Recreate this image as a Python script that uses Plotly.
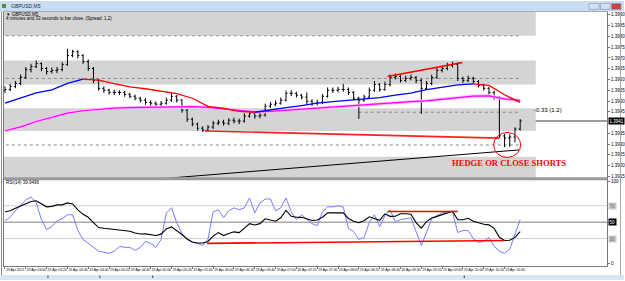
import plotly.graph_objects as go

W, H = 625, 281

# ---------------- data ----------------
close = [1.39554, 1.39568, 1.39582, 1.39610, 1.39646, 1.39660, 1.39674, 1.39651, 1.39637, 1.39642,
         1.39646, 1.39670, 1.39711, 1.39729, 1.39711, 1.39683, 1.39651, 1.39596, 1.39559, 1.39550,
         1.39540, 1.39540, 1.39540, 1.39531, 1.39522, 1.39513, 1.39504, 1.39494, 1.39490, 1.39485,
         1.39490, 1.39504, 1.39522, 1.39504, 1.39457, 1.39416, 1.39393, 1.39374, 1.39365, 1.39379,
         1.39397, 1.39402, 1.39397, 1.39411, 1.39407, 1.39407, 1.39430, 1.39444, 1.39430, 1.39434,
         1.39476, 1.39485, 1.39490, 1.39504, 1.39536, 1.39536, 1.39527, 1.39518, 1.39499, 1.39490,
         1.39494, 1.39522, 1.39550, 1.39550, 1.39554, 1.39554, 1.39540, 1.39513, 1.39504, 1.39518,
         1.39550, 1.39577, 1.39554, 1.39577, 1.39610, 1.39614, 1.39596, 1.39605, 1.39610, 1.39596,
         1.39559, 1.39582, 1.39610, 1.39642, 1.39651, 1.39665, 1.39670, 1.39605, 1.39596, 1.39605,
         1.39591, 1.39573, 1.39559, 1.39540, 1.39518, 1.39338, 1.39328, 1.39333, 1.39370, 1.39407]
high = [1.39568, 1.39580, 1.39593, 1.39623, 1.39658, 1.39673, 1.39688, 1.39680, 1.39658, 1.39656,
        1.39658, 1.39680, 1.39743, 1.39738, 1.39736, 1.39718, 1.39693, 1.39658, 1.39603, 1.39568,
        1.39558, 1.39553, 1.39550, 1.39548, 1.39538, 1.39530, 1.39520, 1.39513, 1.39503, 1.39498,
        1.39500, 1.39516, 1.39536, 1.39528, 1.39510, 1.39463, 1.39423, 1.39400, 1.39383, 1.39388,
        1.39408, 1.39413, 1.39413, 1.39420, 1.39423, 1.39418, 1.39443, 1.39456, 1.39450, 1.39446,
        1.39488, 1.39496, 1.39503, 1.39516, 1.39548, 1.39550, 1.39543, 1.39533, 1.39540, 1.39508,
        1.39506, 1.39533, 1.39563, 1.39563, 1.39566, 1.39580, 1.39563, 1.39546, 1.39520, 1.39530,
        1.39563, 1.39593, 1.39583, 1.39590, 1.39623, 1.39628, 1.39620, 1.39618, 1.39623, 1.39616,
        1.39603, 1.39593, 1.39623, 1.39656, 1.39663, 1.39678, 1.39683, 1.39680, 1.39613, 1.39618,
        1.39613, 1.39598, 1.39580, 1.39566, 1.39548, 1.39523, 1.39348, 1.39346, 1.39378, 1.39416]
low = [1.39538, 1.39546, 1.39560, 1.39573, 1.39603, 1.39633, 1.39653, 1.39638, 1.39623, 1.39628,
       1.39630, 1.39638, 1.39663, 1.39703, 1.39698, 1.39673, 1.39640, 1.39583, 1.39548, 1.39538,
       1.39530, 1.39528, 1.39528, 1.39520, 1.39513, 1.39503, 1.39493, 1.39483, 1.39478, 1.39473,
       1.39476, 1.39483, 1.39496, 1.39493, 1.39446, 1.39403, 1.39383, 1.39363, 1.39356, 1.39358,
       1.39370, 1.39388, 1.39386, 1.39388, 1.39396, 1.39393, 1.39400, 1.39423, 1.39418, 1.39420,
       1.39428, 1.39468, 1.39476, 1.39483, 1.39498, 1.39523, 1.39516, 1.39508, 1.39483, 1.39478,
       1.39480, 1.39486, 1.39516, 1.39538, 1.39540, 1.39543, 1.39528, 1.39503, 1.39417, 1.39496,
       1.39510, 1.39543, 1.39543, 1.39548, 1.39568, 1.39600, 1.39586, 1.39588, 1.39596, 1.39583,
       1.39440, 1.39553, 1.39573, 1.39603, 1.39633, 1.39643, 1.39656, 1.39593, 1.39583, 1.39588,
       1.39580, 1.39563, 1.39548, 1.39528, 1.39506, 1.39328, 1.39286, 1.39288, 1.39308, 1.39363]
first_open = 1.39548
open_ = [first_open] + close[:-1]
bars = list(range(len(close)))

# moving averages, one value every 3 bars
ma_bars = list(range(0, 100, 3))
ma_fast = [1.39490, 1.39514, 1.39538, 1.39552, 1.39582, 1.39602, 1.39597, 1.39581, 1.39566, 1.39557,
           1.39546, 1.39534, 1.39513, 1.39475, 1.39466, 1.39452, 1.39448, 1.39457, 1.39469, 1.39479,
           1.39490, 1.39497, 1.39503, 1.39509, 1.39516, 1.39527, 1.39537, 1.39553, 1.39565, 1.39575,
           1.39580, 1.39573, 1.39529, 1.39494]
ma_slow = [1.39362, 1.39380, 1.39405, 1.39425, 1.39444, 1.39455, 1.39462, 1.39467, 1.39469, 1.39471,
           1.39471, 1.39474, 1.39474, 1.39471, 1.39463, 1.39455, 1.39450, 1.39452, 1.39457, 1.39463,
           1.39468, 1.39474, 1.39480, 1.39485, 1.39489, 1.39493, 1.39497, 1.39501, 1.39508, 1.39516,
           1.39523, 1.39524, 1.39510, 1.39503]

rsi = [51.8, 56.0, 63.9, 71.1, 77.1, 80.7, 73.5, 53.0, 41.0, 44.6,
       51.8, 54.2, 59.0, 59.0, 39.8, 28.9, 24.1, 19.3, 14.5, 13.3,
       12.0, 14.5, 20.5, 19.3, 19.3, 15.7, 19.3, 26.5, 24.1, 19.3,
       28.9, 61.4, 67.5, 49.4, 36.1, 28.9, 25.3, 24.1, 21.7, 28.9,
       62.7, 65.1, 55.4, 63.9, 67.5, 65.1, 67.5, 79.5, 61.4, 73.5,
       78.3, 78.3, 63.9, 67.5, 79.5, 62.7, 53.0, 59.0, 53.0, 48.2,
       45.8, 62.7, 68.7, 68.7, 69.9, 68.7, 42.2, 38.6, 28.9, 31.3,
       49.4, 59.0, 44.6, 57.8, 65.1, 50.6, 53.0, 54.2, 55.4, 38.6,
       21.7, 37.3, 54.2, 57.8, 61.4, 62.7, 62.7, 37.3, 39.8, 39.8,
       30.1, 25.3, 26.5, 31.3, 20.5, 14.5, 12.0, 16.9, 34.9, 53.0]
rsi_signal = [62.7, 63.9, 66.9, 69.9, 72.3, 75.2, 76.1, 72.3, 68.7, 69.3,
              71.1, 71.1, 73.5, 72.3, 65.1, 59.6, 56.0, 49.4, 43.4, 42.5,
              41.7, 41.3, 41.0, 39.4, 38.9, 36.7, 35.5, 35.7, 34.7, 33.7,
              35.4, 41.7, 44.2, 39.8, 34.9, 29.5, 25.9, 24.6, 24.6, 26.5,
              33.0, 37.3, 33.7, 36.1, 38.2, 37.3, 42.5, 48.2, 46.6, 48.2,
              54.2, 53.0, 51.1, 55.4, 64.5, 57.2, 56.0, 55.9, 54.1, 52.0,
              52.7, 56.0, 61.4, 61.4, 61.8, 61.4, 54.5, 51.0, 49.4, 51.8,
              56.6, 54.2, 52.3, 60.2, 57.1, 57.2, 60.2, 60.2, 59.6, 49.4,
              42.7, 50.7, 55.1, 57.1, 59.0, 61.4, 63.3, 53.0, 53.0, 54.8,
              51.1, 49.4, 47.5, 46.7, 42.4, 31.6, 27.7, 28.0, 31.4, 38.6]

# user drawn objects (bar index, value)
trend_price_upper = ([73.5, 87.9], [1.39614, 1.39679])
trend_price_lower = ([38.4, 95.0], [1.39361, 1.39328])
trend_price_long = ([27.8, 98.8], [1.39135, 1.39273])
trend_rsi_upper = ([73.5, 87.0], [63.0, 63.0])
trend_rsi_lower = ([38.8, 96.0], [24.1, 27.7])
zones = [(1.39803, 1.39950), (1.39577, 1.39688), (1.39361, 1.39467), (1.39100, 1.39241)]
dotted_levels = [(1.39803, -1, 99), (1.39605, -1, 99), (1.39448, 68, 99), (1.39296, -1, 99)]
circle_box = (93.9, 99.1, 1.39238, 1.39354)

time_tick_bars = list(range(0, 100, 4))
time_tick_labels = ["29 Apr 2021", "29 Apr 03:00", "29 Apr 03:20", "29 Apr 03:40", "29 Apr 04:00",
                    "29 Apr 04:20", "29 Apr 04:40", "29 Apr 05:00", "29 Apr 05:20", "29 Apr 05:40",
                    "29 Apr 06:00", "29 Apr 06:20", "29 Apr 06:40", "29 Apr 07:00", "29 Apr 07:20",
                    "29 Apr 07:40", "29 Apr 08:00", "29 Apr 08:20", "29 Apr 08:40", "29 Apr 09:00",
                    "29 Apr 09:20", "29 Apr 09:40", "29 Apr 10:00", "29 Apr 10:20", "29 Apr 10:40"]
price_ticks = [1.3990, 1.3985, 1.3980, 1.3975, 1.3970, 1.3965, 1.3960, 1.3955,
               1.3950, 1.3945, 1.3935, 1.3930, 1.3925, 1.3920, 1.3915]
rsi_levels = [70, 50, 30]


def px(p):
    return p / W


def py(p):
    return 1 - p / H


FONT = "Liberation Sans"
fig = go.Figure()

# price bars
fig.add_trace(go.Ohlc(x=bars, open=open_, high=high, low=low, close=close,
                      increasing=dict(line=dict(color="black", width=1)),
                      decreasing=dict(line=dict(color="black", width=1)),
                      tickwidth=0.3, xaxis="x", yaxis="y", hoverinfo="skip"))

# slow MA (magenta with pale halo)
fig.add_trace(go.Scatter(x=ma_bars, y=ma_slow, mode="lines", line=dict(color="#ffb8ff", width=3),
                         xaxis="x", yaxis="y", hoverinfo="skip"))
fig.add_trace(go.Scatter(x=ma_bars, y=ma_slow, mode="lines", line=dict(color="#ff00ff", width=1.2),
                         xaxis="x", yaxis="y", hoverinfo="skip"))

# fast MA, coloured by slope
runs = []
for j in range(len(ma_fast) - 1):
    col = "#0000ff" if ma_fast[j + 1] >= ma_fast[j] else "#ff0000"
    if runs and runs[-1][0] == col:
        runs[-1][1].append(j + 1)
    else:
        runs.append([col, [j, j + 1]])
for col, idx in runs:
    fig.add_trace(go.Scatter(x=[ma_bars[k] for k in idx], y=[ma_fast[k] for k in idx], mode="lines",
                             line=dict(color=col, width=1.3), xaxis="x", yaxis="y", hoverinfo="skip"))

# trend lines on price
for (tx, ty), col, wdt in [(trend_price_upper, "#ff0000", 1.6), (trend_price_lower, "#ff2020", 1.6),
                           (trend_price_long, "#000000", 1.0)]:
    fig.add_trace(go.Scatter(x=tx, y=ty, mode="lines", line=dict(color=col, width=wdt),
                             xaxis="x", yaxis="y", hoverinfo="skip"))

# RSI panel
fig.add_trace(go.Scatter(x=bars, y=rsi, mode="lines", line=dict(color="#7b7bff", width=1),
                         xaxis="x2", yaxis="y2", hoverinfo="skip"))
fig.add_trace(go.Scatter(x=bars, y=rsi_signal, mode="lines", line=dict(color="#000000", width=1.1),
                         xaxis="x2", yaxis="y2", hoverinfo="skip"))
for tx, ty in [trend_rsi_upper, trend_rsi_lower]:
    fig.add_trace(go.Scatter(x=tx, y=ty, mode="lines", line=dict(color="#ff0000", width=1.6),
                             xaxis="x2", yaxis="y2", hoverinfo="skip"))

shapes = []
# zones
for y0, y1 in zones:
    shapes.append(dict(type="rect", xref="x", yref="y", x0=-1, x1=102, y0=y0, y1=y1,
                       fillcolor="#d4d4d4", line=dict(width=0), layer="below"))
for lv, a, b in dotted_levels:
    shapes.append(dict(type="line", xref="x", yref="y", x0=a, x1=b, y0=lv, y1=lv,
                       line=dict(color="#8a8a8a", width=1, dash="dot"), layer="below"))
# bid line
shapes.append(dict(type="line", xref="x domain", yref="y", x0=0, x1=1, y0=close[-1], y1=close[-1],
                   line=dict(color="#9c9c9c", width=2), layer="below"))
# RSI levels
for lv in rsi_levels:
    shapes.append(dict(type="line", xref="x2 domain", yref="y2", x0=0, x1=1, y0=lv, y1=lv,
                       line=dict(color="#808080" if lv == 50 else "#cfcfcf", width=1), layer="below"))
# circle
cx0, cx1, cy0, cy1 = circle_box
shapes.append(dict(type="circle", xref="x", yref="y", x0=cx0, x1=cx1, y0=cy0, y1=cy1,
                   line=dict(color="#ff0000", width=1)))
# window chrome
shapes.append(dict(type="rect", xref="paper", yref="paper", x0=0, x1=1, y0=py(10.5), y1=1,
                   fillcolor="#c9dcf1", line=dict(width=0)))
shapes.append(dict(type="rect", xref="paper", yref="paper", x0=px(2), x1=px(6), y0=py(7), y1=py(3),
                   fillcolor="#5a8a3a", line=dict(width=0)))
for x0, x1, col in [(590, 600, "#d2e0f1"), (601.5, 611, "#d2e0f1"), (612.5, 622, "#c8453c")]:
    shapes.append(dict(type="rect", xref="paper", yref="paper", x0=px(x0), x1=px(x1), y0=py(8.5),
                       y1=py(2.5), fillcolor=col, line=dict(color="#7f95b3", width=0.6)))
shapes.append(dict(type="rect", xref="paper", yref="paper", x0=px(4), x1=px(608), y0=py(180.5),
                   y1=py(177.5), fillcolor="#9a9a9a", line=dict(width=0)))
shapes.append(dict(type="rect", xref="paper", yref="paper", x0=0, x1=1, y0=0, y1=py(276),
                   fillcolor="#d8e5f5", line=dict(width=0)))
for xt in [48, 100, 153, 465]:
    shapes.append(dict(type="line", xref="paper", yref="paper", x0=px(xt), x1=px(xt), y0=py(279),
                       y1=py(276.5), line=dict(color="#404040", width=1)))
shapes.append(dict(type="line", xref="paper", yref="paper", x0=px(1.5), x1=px(1.5), y0=py(276),
                   y1=py(10.5), line=dict(color="#8a8a8a", width=1)))
shapes.append(dict(type="line", xref="paper", yref="paper", x0=px(621.5), x1=px(621.5), y0=py(276),
                   y1=py(10.5), line=dict(color="#a8a8a8", width=1)))

ann = []
small = dict(family=FONT, size=4.5, color="#000000")
tiny = dict(family=FONT, size=3.4, color="#000000")
ann.append(dict(xref="paper", yref="paper", x=px(9), y=py(5.5), text="GBPUSD,M5", showarrow=False,
                xanchor="left", yanchor="middle", font=dict(family=FONT, size=5, color="#1b2f4a")))
ann.append(dict(xref="paper", yref="paper", x=px(4), y=py(13.5), text="▼ GBPUSD,M5", showarrow=False,
                xanchor="left", yanchor="middle", font=small))
ann.append(dict(xref="paper", yref="paper", x=px(4), y=py(18), showarrow=False,
                text="4 minutes and 33 seconds to bar close. (Spread: 1.2)",
                xanchor="left", yanchor="middle", font=small))
ann.append(dict(xref="paper", yref="paper", x=px(4), y=py(183), text="RSI(14) 39.9496", showarrow=False,
                xanchor="left", yanchor="middle", font=small))
ann.append(dict(xref="x", yref="y", x=101.3, y=1.39457, text="-0.33 (1.2)", showarrow=False,
                xanchor="left", yanchor="middle", font=dict(family=FONT, size=6, color="#000000")))
ann.append(dict(xref="x", yref="y", x=96.9, y=1.39213, text="<b>HEDGE OR CLOSE SHORTS</b>",
                showarrow=False, xanchor="center", yanchor="middle",
                font=dict(family="Liberation Serif", size=8.6, color="#ff0000")))
ann.append(dict(xref="paper", yref="y", x=px(609), y=close[-1], text=f"{close[-1]:.4f}",
                showarrow=False, xanchor="left", yanchor="middle", bgcolor="#000000", borderpad=0.5,
                font=dict(family=FONT, size=4.5, color="#ffffff")))
for lv in rsi_levels:
    ann.append(dict(xref="paper", yref="y2", x=px(609), y=lv, text=str(lv), showarrow=False,
                    xanchor="left", yanchor="middle", bgcolor="#000000" if lv == 50 else "#c8c8c8",
                    borderpad=0.5,
                    font=dict(family=FONT, size=4.5, color="#ffffff" if lv == 50 else "#606060")))

xr = [-0.192, 115.69]
axis_common = dict(showgrid=False, zeroline=False, showline=True, linecolor="#7a7a7a",
                   linewidth=1, mirror=True, fixedrange=True)
fig.update_layout(
    width=W, height=H, autosize=False, margin=dict(l=0, r=0, t=0, b=0),
    paper_bgcolor="#ffffff", plot_bgcolor="#ffffff", showlegend=False,
    shapes=shapes, annotations=ann, hovermode=False,
    xaxis=dict(domain=[px(4), px(608)], range=xr, anchor="y", showticklabels=False,
               rangeslider=dict(visible=False), ticks="", **axis_common),
    yaxis=dict(domain=[py(178), py(11)], range=[1.391439, 1.399138], anchor="x", side="right",
               tickvals=price_ticks, ticktext=[f"{v:.4f}" for v in price_ticks],
               tickfont=small, ticks="outside", ticklen=2, tickcolor="#7a7a7a", **axis_common),
    xaxis2=dict(domain=[px(4), px(608)], range=xr, anchor="y2", tickvals=time_tick_bars,
                ticktext=time_tick_labels, tickfont=tiny, ticks="outside", ticklen=2,
                tickcolor="#7a7a7a", ticklabelposition="outside right", tickangle=0,
                rangeslider=dict(visible=False), **axis_common),
    yaxis2=dict(domain=[py(267), py(180.5)], range=[-3.6, 101.2], anchor="x2", side="right",
                tickvals=[100, 0], ticktext=["100", "0"], tickfont=small, ticks="outside",
                ticklen=2, tickcolor="#7a7a7a", **axis_common),
)

fig.write_html("out.html")
